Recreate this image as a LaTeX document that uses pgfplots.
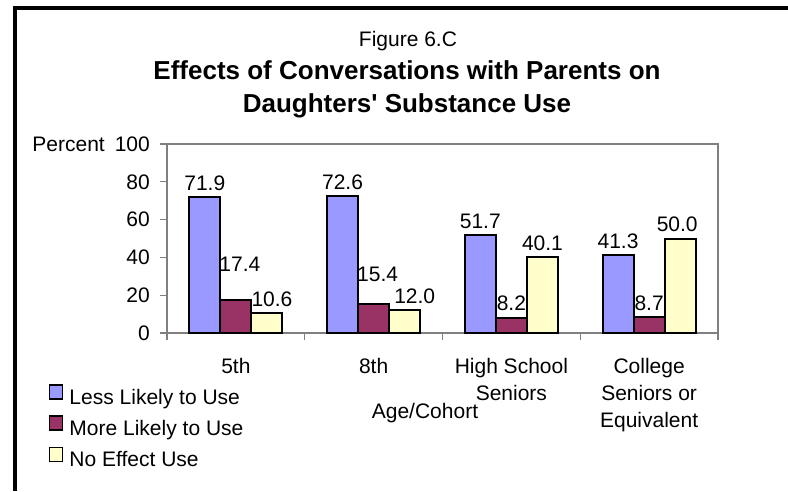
\documentclass[border=0pt]{standalone}
\usepackage{pgfplots}
\usepackage{pgfplotstable}
\pgfplotsset{compat=1.18}
\usepackage{fontspec}
\setmainfont{Liberation Sans}
\definecolor{lessblue}{HTML}{9999FF}
\definecolor{moremaroon}{HTML}{993366}
\definecolor{noeffect}{HTML}{FFFFCC}
\definecolor{axgray}{HTML}{808080}
\newcommand\chartfont{\fontsize{21}{27}\selectfont}
\pgfplotsset{
  sqlegend/.style={legend image code/.code={\draw[##1,line width=1.5pt] (0pt,0pt) rectangle (13pt,14pt);}}
}

% x = cohort, y = percent, dx/dy = label nudge (pt) as in the original
\pgfplotstableread{
x y    dx dy
0 71.9 0  2
1 72.6 0  2
2 51.7 0  2
3 41.3 0  2
}\lessdata
\pgfplotstableread{
x y    dx dy
0 17.4 4  24
1 15.4 4  18
2 8.2  0  2
3 8.7  0  2
}\moredata
\pgfplotstableread{
x y    dx dy
0 10.6 5  2
1 12.0 10 2
2 40.1 0  2
3 50.0 -3 2
}\nodata

\begin{document}
\begin{tikzpicture}[x=1pt,y=1pt]
\useasboundingbox (0,0) rectangle (788,491);
% frame, only left and top visible
\draw[line width=4.3pt] (14.7,0) -- (14.7,482.7) -- (788,482.7);

\node[anchor=base, font=\chartfont] at (408,444) {Figure 6.C};
\node[anchor=base, font=\fontsize{26}{30}\selectfont\bfseries] at (407,411) {Effects of Conversations with Parents on};
\node[anchor=base, font=\fontsize{26}{30}\selectfont\bfseries] at (407,378) {Daughters\textquotesingle\ Substance Use};
\node[anchor=base east, font=\chartfont, inner sep=0pt] at (105,339) {Percent};
\node[anchor=base, font=\chartfont, inner sep=0pt] at (425,73) {Age/Cohort};

\begin{axis}[
  at={(167pt,158pt)}, anchor=south west,
  scale only axis, width=551pt, height=189pt,
  ybar,
  /pgf/number format/assume math mode=true,
  ymin=0, ymax=100, xmin=-0.5, xmax=3.5,
  ytick={0,20,...,100},
  xtick={-0.5,0.5,1.5,2.5,3.5},
  xticklabels={},
  extra x ticks={0,1,2,3},
  extra x tick labels={5th,8th,High School\\Seniors,College\\Seniors or\\Equivalent},
  extra x tick style={tick style={draw=none}},
  tick align=outside, ytick pos=left, xtick pos=bottom,
  major tick length=7pt,
  axis line style={axgray, line width=1.3pt},
  tick style={axgray, line width=1.3pt},
  ticklabel style={font=\chartfont, text=black},
  xticklabel style={align=center, inner sep=0pt, yshift=-18pt},
  yticklabel style={inner sep=0pt, xshift=-10pt},
  bar width=0.2255,
  visualization depends on={\thisrow{dx} \as \dx},
  visualization depends on={\thisrow{dy} \as \dy},
  nodes near coords={\pgfmathprintnumber[fixed,fixed zerofill,precision=1,assume math mode=true]{\pgfplotspointmeta}},
  every node near coord/.append style={font=\chartfont, text=black, xshift=\dx, yshift=\dy},
  legend style={at={(rel axis cs:0,0)}, anchor=north west, xshift=-118pt, yshift=-51pt,
    draw=none, fill=none, inner sep=0pt, outer sep=0pt, font=\chartfont,
    row sep=6pt, column sep=6pt,
    nodes={inner sep=0pt, text height=16pt, text depth=5pt}},
  legend cell align=left,
  clip=false,
]
\addplot[bar shift=-0.2255, fill=lessblue, draw=black, line width=2pt, sqlegend] table[x=x, y=y] {\lessdata};
\addlegendentry{Less Likely to Use}
\addplot[bar shift=0, fill=moremaroon, draw=black, line width=2pt, sqlegend] table[x=x, y=y] {\moredata};
\addlegendentry{More Likely to Use}
\addplot[bar shift=0.2255, fill=noeffect, draw=black, line width=2pt, sqlegend] table[x=x, y=y] {\nodata};
\addlegendentry{No Effect Use}
\end{axis}
\end{tikzpicture}
\end{document}
